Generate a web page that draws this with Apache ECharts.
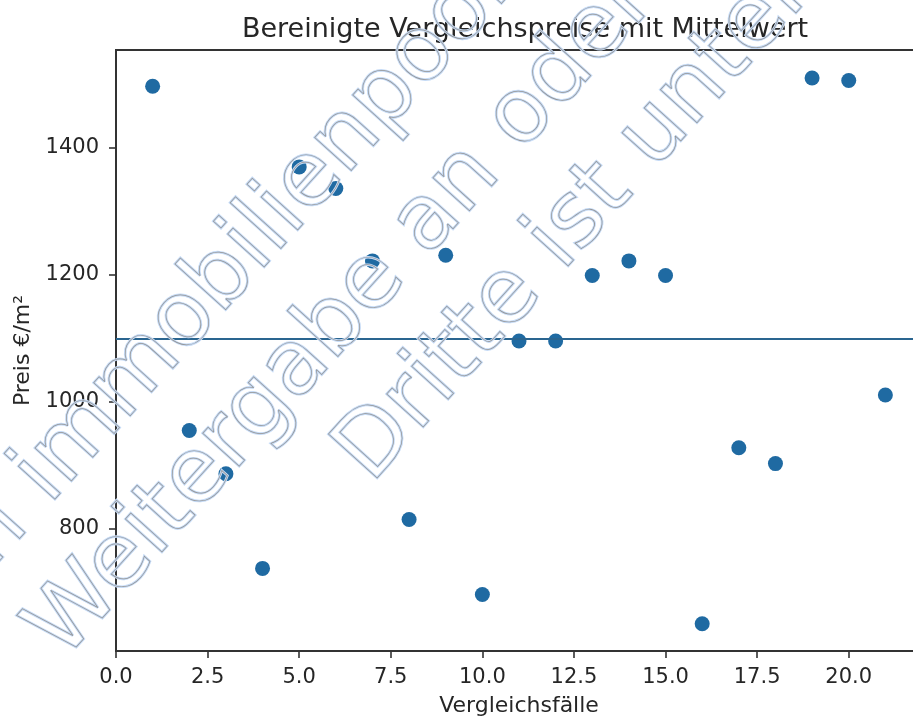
<!DOCTYPE html>
<html>
<head>
<meta charset="utf-8">
<script src="https://cdn.jsdelivr.net/npm/echarts@6/dist/echarts.min.js"></script>
<style>
  html, body { margin: 0; padding: 0; background: #ffffff; }
  #chart { width: 913px; height: 718px; }
</style>
</head>
<body>
<div id="chart"></div>
<script>
// ---- data ----
const caseNumbers = [1, 2, 3, 4, 5, 6, 7, 8, 9, 10, 11, 12, 13, 14, 15, 16, 17, 18, 19, 20, 21];
const prices = [1497, 955, 887, 738, 1370, 1336, 1222, 815, 1231, 697, 1096, 1096, 1199, 1222, 1199, 651, 928, 903, 1510, 1506, 1011];
const meanValue = 1100;
const xTicks = [0, 2.5, 5, 7.5, 10, 12.5, 15, 17.5, 20];
const yTicks = [800, 1000, 1200, 1400];
const titleText = 'Bereinigte Vergleichspreise mit Mittelwert';
const xAxisName = 'Vergleichsfälle';
const yAxisName = 'Preis €/m²';
const watermarkLines = ['Kopie von ', 'immobilienpool.de', 'Weitergabe an oder Verkauf durch', 'Dritte ist untersagt!'];

const chart = echarts.init(document.getElementById('chart'), null, { renderer: 'canvas' });

const textColor = '#262626';
const font = 'DejaVu Sans';

// watermark (outlined, rotated text)
const ang = 48 * Math.PI / 180;
const wmSize = 90;
const wmFont = wmSize + 'px "DejaVu Sans"';
const upX = -Math.sin(ang), upY = -Math.cos(ang);
function wmText(txt, bx, by, align) {
  const off = 0.3 * wmSize;
  const x = bx + off * upX, y = by + off * upY;
  return [
    { type: 'text', x: x, y: y, rotation: ang, silent: true, z: 100,
      style: { text: txt, font: wmFont, fill: 'rgba(0,0,0,0)', stroke: '#c6dbf6', lineWidth: 2.6, align: align, verticalAlign: 'middle' } },
    { type: 'text', x: x, y: y, rotation: ang, silent: true, z: 101,
      style: { text: txt, font: wmFont, fill: 'rgba(0,0,0,0)', stroke: '#949494', lineWidth: 0.7, align: align, verticalAlign: 'middle' } }
  ];
}
const wm = []
  .concat(wmText(watermarkLines[0], 52, 508, 'right'))
  .concat(wmText(watermarkLines[1], 52, 508, 'left'))
  .concat(wmText(watermarkLines[2], 66, 664, 'left'))
  .concat(wmText(watermarkLines[3], 374, 487, 'left'));

const option = {
  backgroundColor: '#ffffff',
  animation: false,
  title: {
    text: titleText,
    left: 520,
    top: 11,
    textAlign: 'center',
    textStyle: { fontFamily: font, fontSize: 27, fontWeight: 'normal', color: textColor }
  },
  grid: {
    left: 116, top: 50, width: 806, height: 601,
    containLabel: false,
    outerBoundsMode: 'none',
    show: true, borderColor: '#333333', borderWidth: 2, backgroundColor: 'rgba(0,0,0,0)'
  },
  xAxis: {
    type: 'value',
    min: 0, max: 22,
    name: xAxisName,
    nameLocation: 'middle',
    nameGap: 44,
    nameTextStyle: { fontFamily: font, fontSize: 22, color: textColor },
    axisLine: { show: false },
    splitLine: { show: false },
    axisTick: { show: true, inside: false, length: 7, customValues: xTicks, lineStyle: { color: '#333', width: 1.6 } },
    axisLabel: { customValues: xTicks, margin: 16, fontFamily: font, fontSize: 21, color: textColor,
      formatter: v => Number(v).toFixed(1) }
  },
  yAxis: {
    type: 'value',
    min: 608, max: 1554,
    name: yAxisName,
    nameLocation: 'middle',
    nameGap: 82,
    nameTextStyle: { fontFamily: font, fontSize: 22, color: textColor },
    axisLine: { show: false },
    splitLine: { show: false },
    axisTick: { show: true, inside: false, length: 7, customValues: yTicks, lineStyle: { color: '#333', width: 1.6 } },
    axisLabel: { customValues: yTicks, margin: 17, fontFamily: font, fontSize: 21, color: textColor,
      formatter: v => String(v) }
  },
  series: [{
    type: 'scatter',
    data: caseNumbers.map((c, i) => [c, prices[i]]),
    symbolSize: 15,
    itemStyle: { color: '#1f6aa2', opacity: 1 },
    markLine: {
      silent: true,
      symbol: ['none', 'none'],
      label: { show: false },
      lineStyle: { color: '#2a6590', width: 2, type: 'solid' },
      data: [{ yAxis: meanValue }]
    }
  }],
  graphic: { elements: wm }
};

chart.setOption(option);
</script>
</body>
</html>
